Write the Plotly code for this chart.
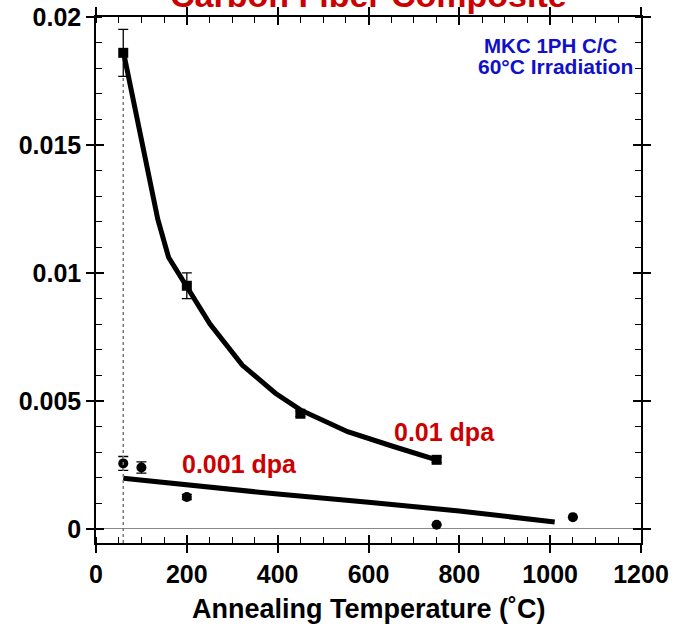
import plotly.graph_objects as go

# ---- data ----
sq_x = [60, 200, 450, 750]
sq_y = [0.0186, 0.0095, 0.0045, 0.0027]
sq_err = [0.00092, 0.0005, 0.0001, 0.0001]

circ_x = [60, 100, 200, 750, 1050]
circ_y = [0.00256, 0.00240, 0.00125, 0.00016, 0.00046]
circ_err = [0.00027, 0.00022, 0.0001, 0.0, 0.0]

fit1_x = [62, 103, 136, 160, 203, 251, 322, 395, 450, 554, 655, 750]
fit1_y = [0.0185, 0.0149, 0.0121, 0.0106, 0.0094, 0.0080, 0.0064, 0.0053, 0.00465, 0.0038, 0.00322, 0.0027]

fit2_x = [60, 200, 400, 600, 800, 1010]
fit2_y = [0.00198, 0.00172, 0.00136, 0.00104, 0.00070, 0.00027]

IRRAD_T = 60
IRRAD_TOP = 0.0177

x_range = [0, 1200]
y_range = [-0.00055, 0.02]

FONT = "Liberation Sans, Arial, sans-serif"
RED = "#cc0000"
BLUE = "#1010c8"

fig = go.Figure()

fig.add_trace(go.Scatter(x=fit1_x, y=fit1_y, mode="lines",
                         line=dict(color="black", width=5), showlegend=False))
fig.add_trace(go.Scatter(x=fit2_x, y=fit2_y, mode="lines",
                         line=dict(color="black", width=5), showlegend=False))
fig.add_trace(go.Scatter(x=sq_x, y=sq_y, mode="markers",
                         marker=dict(symbol="square", size=10, color="black"),
                         error_y=dict(type="data", array=sq_err, color="black",
                                      thickness=1.3, width=5),
                         showlegend=False))
fig.add_trace(go.Scatter(x=circ_x, y=circ_y, mode="markers",
                         marker=dict(symbol="circle", size=10, color="black"),
                         error_y=dict(type="data", array=circ_err, color="black",
                                      thickness=1.3, width=5),
                         showlegend=False))
# invisible trace for the overlay axes (crossing ticks)
fig.add_trace(go.Scatter(x=[x_range[0]], y=[y_range[0]], xaxis="x2", yaxis="y2",
                         mode="markers", marker=dict(opacity=0), showlegend=False,
                         hoverinfo="skip"))

fig.add_shape(type="line", x0=IRRAD_T, x1=IRRAD_T, y0=y_range[0], y1=IRRAD_TOP,
              xref="x", yref="y", line=dict(color="#777777", width=1.5, dash="dot"))

tickfont = dict(family=FONT, size=25, color="black", weight="bold")

common_x = dict(range=x_range, dtick=200, tick0=0, showline=True, linecolor="black",
                linewidth=1.5, mirror="allticks", showgrid=False, zeroline=False,
                tickcolor="black", tickwidth=1.5, automargin=False)
common_y = dict(range=y_range, dtick=0.005, tick0=0, showline=True, linecolor="black",
                linewidth=1.5, mirror="allticks", showgrid=False,
                tickcolor="black", tickwidth=1.5, automargin=False)

fig.update_layout(
    width=677, height=632,
    margin=dict(l=96, r=36, t=17, b=89),
    paper_bgcolor="white", plot_bgcolor="white",
    xaxis=dict(**common_x, ticks="outside", ticklen=8, tickfont=tickfont,
               minor=dict(dtick=50, ticks="inside", ticklen=6, tickcolor="black", tickwidth=1.2)),
    yaxis=dict(**common_y, ticks="outside", ticklen=8, tickfont=tickfont,
               zeroline=True, zerolinecolor="#888888", zerolinewidth=1,
               minor=dict(dtick=0.001, ticks="inside", ticklen=6, tickcolor="black", tickwidth=1.2)),
    xaxis2=dict(**common_x, overlaying="x", anchor="y2", side="bottom", ticks="inside",
                ticklen=8, showticklabels=False),
    yaxis2=dict(**common_y, overlaying="y", anchor="x2", side="left", ticks="inside",
                ticklen=8, showticklabels=False, zeroline=False),
)

fig.add_annotation(text="Annealing Temperature (˚C)", x=0.5, xref="paper", y=0, yref="paper",
                   xanchor="center", yanchor="middle", yshift=-66, showarrow=False,
                   font=dict(family=FONT, size=27, color="black", weight="bold"))
fig.add_annotation(text="Carbon Fiber Composite", x=0.5, xref="paper", y=1, yref="paper",
                   xanchor="center", yanchor="bottom", yshift=1, showarrow=False,
                   font=dict(family=FONT, size=34, color=RED, weight="bold"))
fig.add_annotation(text="MKC 1PH C/C", x=1000, y=0.0189,
                   xanchor="center", yanchor="middle", showarrow=False,
                   font=dict(family=FONT, size=20.5, color=BLUE, weight="bold"))
fig.add_annotation(text="60°C Irradiation", x=1011, y=0.01805,
                   xanchor="center", yanchor="middle", showarrow=False,
                   font=dict(family=FONT, size=21, color=BLUE, weight="bold"))
fig.add_annotation(text="0.01 dpa", x=768, y=0.0038, xanchor="center", yanchor="middle",
                   showarrow=False, font=dict(family=FONT, size=25, color=RED, weight="bold"))
fig.add_annotation(text="0.001 dpa", x=316, y=0.00255, xanchor="center", yanchor="middle",
                   showarrow=False, font=dict(family=FONT, size=25, color=RED, weight="bold"))

fig.write_html("out.html")
